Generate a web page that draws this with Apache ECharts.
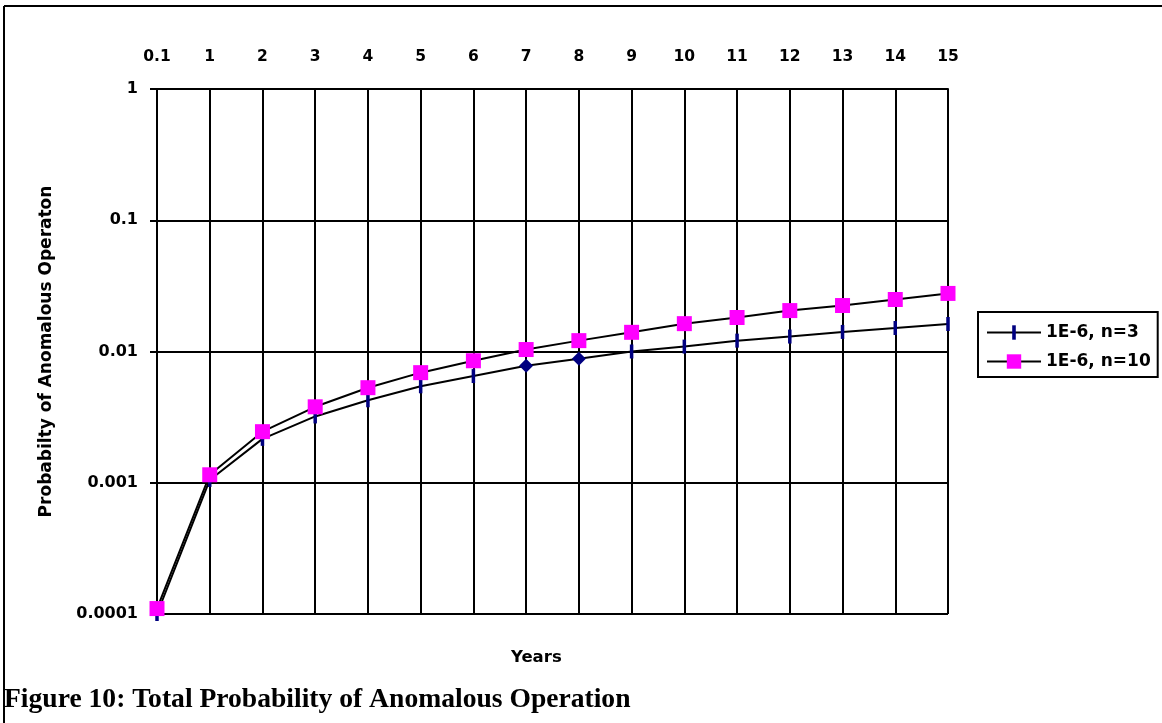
<!DOCTYPE html>
<html>
<head>
<meta charset="utf-8">
<script src="https://cdn.jsdelivr.net/npm/echarts@6/dist/echarts.min.js"></script>
<style>
html,body{margin:0;padding:0;background:#fff;}
#chart{width:1162px;height:723px;}
</style>
</head>
<body>
<div id="chart"></div>
<script>
var categories = ['0.1','1','2','3','4','5','6','7','8','9','10','11','12','13','14','15'];
var seriesN3 = [0.0001,0.00105,0.00216,0.0032,0.00425,0.00543,0.0065,0.00778,0.0088,0.0100,0.0109,0.0121,0.0130,0.0141,0.0151,0.0162];
var seriesN10 = [0.00011,0.00115,0.00245,0.00379,0.0053,0.0069,0.0085,0.01035,0.0121,0.014,0.0163,0.01815,0.0205,0.0224,0.0249,0.0277];
var diamondIdx = [7, 8];
var yTickLabels = {'-4':'0.0001','-3':'0.001','-2':'0.01','-1':'0.1','0':'1'};

var sansFont = '"DejaVu Sans", Arial, sans-serif';
var dashPath = 'path://M0,0 L0,0 M14,14 L14,14 M5.25,0 L8.75,0 L8.75,14 L5.25,14 Z';

var n3Data = seriesN3.map(function (v, i) {
  if (diamondIdx.indexOf(i) >= 0) {
    return {value: v, symbol: 'diamond', symbolSize: 14};
  }
  return v;
});

var chart = echarts.init(document.getElementById('chart'));
chart.setOption({
  animation: false,
  backgroundColor: '#fff',
  grid: {left: 157, right: 214, top: 89, bottom: 109, containLabel: false},
  xAxis: {
    type: 'category',
    position: 'top',
    data: categories,
    boundaryGap: false,
    axisLine: {show: true, lineStyle: {color: '#000', width: 2}},
    axisTick: {show: false},
    axisLabel: {color: '#000', fontFamily: sansFont, fontWeight: 'bold', fontSize: 15.5, margin: 24, interval: 0},
    splitLine: {show: true, lineStyle: {color: '#000', width: 2}}
  },
  yAxis: {
    type: 'log',
    logBase: 10,
    min: 0.0001,
    max: 1,
    name: 'Probabilty of Anomalous Operaton',
    nameLocation: 'middle',
    nameRotate: 90,
    nameGap: 102,
    nameTextStyle: {color: '#000', fontFamily: sansFont, fontWeight: 'bold', fontSize: 17},
    axisLine: {show: true, lineStyle: {color: '#000', width: 2}},
    axisTick: {show: true, length: 7, lineStyle: {color: '#000', width: 2}},
    axisLabel: {
      color: '#000', fontFamily: sansFont, fontWeight: 'bold', fontSize: 16, margin: 19,
      formatter: function (v) { var k = Math.round(Math.log10(v)); return yTickLabels[String(k)] || ''; }
    },
    splitLine: {show: true, lineStyle: {color: '#000', width: 2}}
  },
  legend: {
    orient: 'vertical',
    left: 978,
    top: 312,
    borderColor: '#000',
    borderWidth: 2,
    padding: [12, 7, 7, 8],
    itemWidth: 54,
    itemHeight: 18,
    itemGap: 12,
    textStyle: {color: '#000', fontFamily: sansFont, fontWeight: 'bold', fontSize: 17},
    data: ['1E-6, n=3', '1E-6, n=10']
  },
  graphic: [
    {type: 'line', shape: {x1: 4, y1: 6, x2: 1162, y2: 6}, style: {stroke: '#000', lineWidth: 2}},
    {type: 'line', shape: {x1: 4, y1: 6, x2: 4, y2: 723}, style: {stroke: '#000', lineWidth: 2}},
    {type: 'text', left: 511, top: 649, style: {text: 'Years', fill: '#000', font: 'bold 16.5px "DejaVu Sans", Arial, sans-serif'}},
    {type: 'text', left: 4, top: 686, style: {text: 'Figure 10: Total Probability of Anomalous Operation', fill: '#000', font: 'bold 27.6px "Times New Roman", "Liberation Serif", serif'}}
  ],
  series: [
    {
      name: '1E-6, n=3',
      type: 'line',
      data: n3Data,
      symbol: dashPath,
      symbolSize: 14,
      showAllSymbol: true,
      lineStyle: {color: '#000', width: 2},
      itemStyle: {color: '#000080'},
      z: 3
    },
    {
      name: '1E-6, n=10',
      type: 'line',
      data: seriesN10,
      symbol: 'rect',
      symbolSize: 15,
      showAllSymbol: true,
      lineStyle: {color: '#000', width: 2},
      itemStyle: {color: '#FF00FF'},
      z: 4
    }
  ]
});
</script>
</body>
</html>
